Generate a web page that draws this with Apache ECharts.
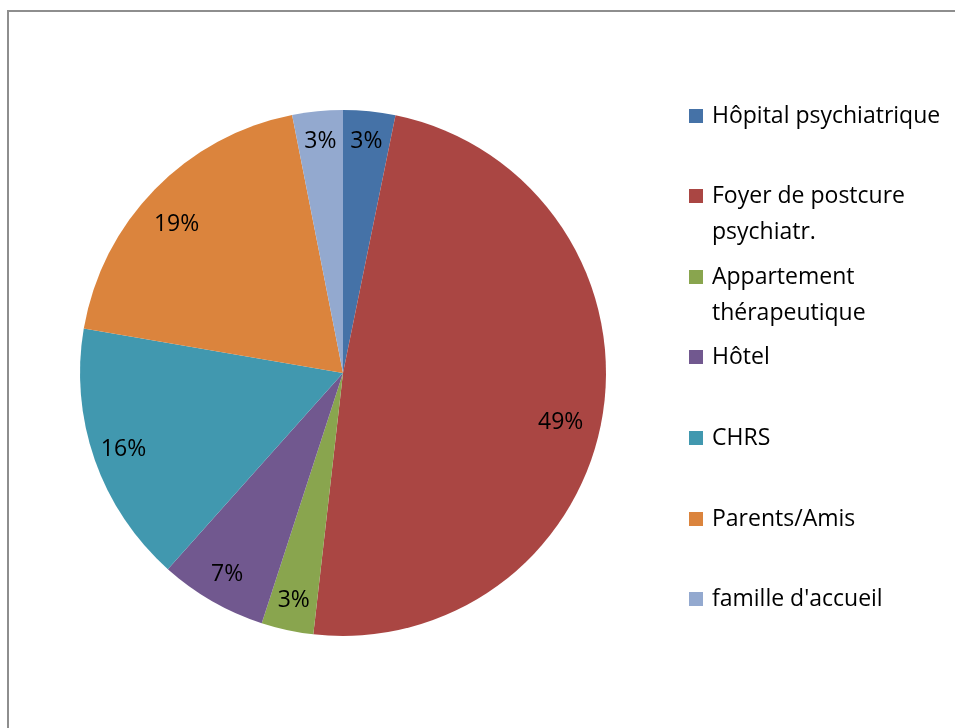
<!DOCTYPE html>
<html>
<head>
<meta charset="utf-8">
<script src="https://cdn.jsdelivr.net/npm/echarts@6/dist/echarts.min.js"></script>
<style>
html,body{margin:0;padding:0;background:#fff;}
#frame{position:absolute;left:7px;top:10px;width:960px;height:730px;border-left:2px solid #8e8e8e;border-top:2px solid #8e8e8e;box-sizing:border-box;}
#chart{position:absolute;left:0;top:0;width:955px;height:728px;}
</style>
</head>
<body>
<div id="frame"></div>
<div id="chart"></div>
<script>
// Data
var categories = ['Hôpital psychiatrique', 'Foyer de postcure\npsychiatr.', 'Appartement\nthérapeutique', 'Hôtel', 'CHRS', 'Parents/Amis', "famille d'accueil"];
var values = [3.2, 48.6, 3.2, 6.6, 16.1, 19.2, 3.1];
var colors = ['#4572A7', '#AA4643', '#89A54E', '#71588F', '#4198AF', '#DB843D', '#93A9CF'];

var FONT = 'Open Sans';
var FS = 23;
var chart = echarts.init(document.getElementById('chart'), null, {renderer: 'canvas'});

var pieData = categories.map(function (c, i) {
  return {name: c, value: values[i], itemStyle: {color: colors[i]}};
});

// legend layout (icon centre y for each entry)
var ICON = 14;
var iconCenters = [116, 196, 277, 357, 438, 519, 599];
var legends = categories.map(function (c, i) {
  var twoLine = c.indexOf('\n') >= 0;
  var boxHalf = twoLine ? 54 : 18;          // half text block height
  var top = iconCenters[i] - boxHalf - 5;   // 5 = legend padding
  return {
    orient: 'vertical',
    left: 684,
    top: top,
    itemWidth: ICON,
    itemHeight: ICON,
    icon: 'rect',
    selectedMode: false,
    formatter: function (name) { return name.indexOf('\n') >= 0 ? ' \n' + name : name; },
    textStyle: {
      fontFamily: FONT, fontSize: FS, color: '#000', lineHeight: 36,
      padding: [0, 0, 0, 4]
    },
    data: [c]
  };
});

// small nudges to mimic best-fit label placement
var labelNudge = {1: [-12, 13], 5: [0, 14]};

chart.setOption({
  animation: false,
  color: colors,
  legend: legends,
  series: [
    {
      type: 'pie',
      center: [343, 373],
      radius: [0, 263],
      startAngle: 90,
      clockwise: true,
      silent: true,
      label: {show: false},
      labelLine: {show: false},
      itemStyle: {borderWidth: 0},
      data: pieData
    },
    {
      type: 'pie',
      center: [343, 373],
      radius: [196, 263],
      startAngle: 90,
      clockwise: true,
      silent: true,
      legendHoverLink: false,
      itemStyle: {color: 'rgba(0,0,0,0)', borderWidth: 0},
      label: {
        show: true,
        position: 'inside',
        fontFamily: FONT,
        fontSize: FS,
        color: '#000',
        formatter: function (p) { return Math.round(p.value) + '%'; }
      },
      labelLayout: function (p) {
        var n = labelNudge[p.dataIndex];
        return n ? {dx: n[0], dy: n[1]} : {};
      },
      labelLine: {show: false},
      data: categories.map(function (c, i) { return {name: c + ' ', value: values[i]}; })
    }
  ]
});
</script>
</body>
</html>
